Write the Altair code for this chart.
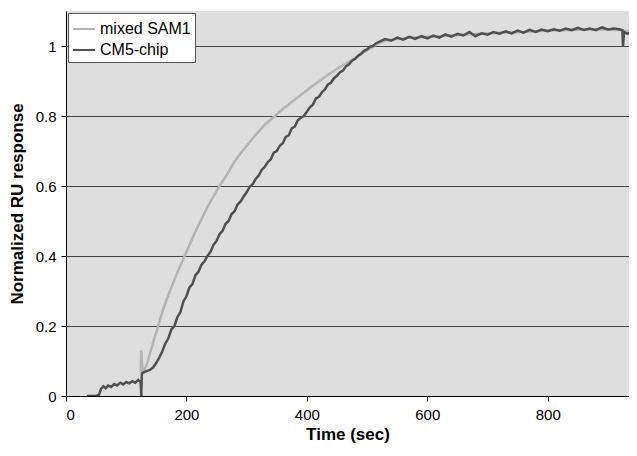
import altair as alt
import pandas as pd

# CM5-chip (dark, noisy)
cm5_t = [35, 50, 55, 58, 62, 66, 70, 75, 80, 85, 90, 95, 100, 105, 110, 115, 120, 124, 125, 126,
         130, 135, 140, 145, 150, 155, 160, 165, 170, 175, 180, 185, 190, 195, 200, 205, 210, 215,
         220, 225, 230, 235, 240, 245, 250, 255, 260, 265, 270, 275, 280, 285, 290, 295, 300, 305,
         310, 315, 320, 325, 330, 335, 340, 345, 350, 355, 360, 365, 370, 375, 380, 385, 390, 395,
         400, 405, 410, 415, 420, 425, 430, 435, 440, 445, 450, 455, 460, 465, 470, 475, 480, 485,
         490, 495, 500, 505, 510, 515, 520, 525, 530, 540, 550, 560, 570, 580, 590, 600, 610, 620,
         630, 640, 650, 660, 670, 680, 690, 700, 710, 720, 730, 740, 750, 760, 770, 780, 790, 800,
         810, 820, 830, 840, 850, 860, 870, 880, 890, 900, 910, 918, 924, 925, 927, 932, 940]
cm5_y = [0.0, 0.0, 0.004, 0.02, 0.028, 0.022, 0.03, 0.026, 0.034, 0.03, 0.038, 0.033, 0.04, 0.036,
         0.042, 0.038, 0.046, 0.04, 0.0, 0.065, 0.068, 0.072, 0.075, 0.082, 0.095, 0.11, 0.128, 0.15,
         0.165, 0.19, 0.2, 0.225, 0.24, 0.27, 0.285, 0.31, 0.32, 0.345, 0.355, 0.375, 0.385, 0.4, 0.412,
         0.432, 0.443, 0.462, 0.472, 0.492, 0.5, 0.52, 0.528, 0.547, 0.556, 0.57, 0.582, 0.598, 0.605,
         0.62, 0.63, 0.646, 0.655, 0.668, 0.676, 0.695, 0.7, 0.715, 0.722, 0.74, 0.745, 0.765, 0.77,
         0.788, 0.795, 0.8, 0.812, 0.825, 0.832, 0.85, 0.855, 0.868, 0.876, 0.89, 0.895, 0.908, 0.915,
         0.925, 0.93, 0.942, 0.948, 0.958, 0.963, 0.972, 0.978, 0.986, 0.99, 0.998, 1.0, 1.008, 1.012,
         1.016, 1.02, 1.015, 1.024, 1.018, 1.026, 1.02, 1.028, 1.022, 1.03, 1.024, 1.033, 1.027, 1.035,
         1.03, 1.04, 1.028, 1.036, 1.032, 1.04, 1.035, 1.042, 1.036, 1.044, 1.038, 1.046, 1.04, 1.047,
         1.042, 1.048, 1.044, 1.05, 1.045, 1.052, 1.046, 1.05, 1.045, 1.053, 1.047, 1.05, 1.048, 1.045,
         1.0, 1.04, 1.035, 1.04]

# mixed SAM1 (light, smooth)
sam_t = [124, 125, 127, 130, 135, 140, 146, 153, 160, 167, 175, 183, 190, 197, 206, 215, 225, 235,
         245, 255, 268, 280, 292, 305, 318, 330, 347, 360, 375, 390, 405, 421, 435, 450, 465, 480,
         495, 510, 520, 530, 550, 570, 600, 640, 680, 720, 760, 800, 840, 880, 920, 940]
sam_y = [0.07, 0.13, 0.07, 0.075, 0.095, 0.125, 0.16, 0.2, 0.24, 0.275, 0.31, 0.345, 0.372, 0.4,
         0.435, 0.47, 0.505, 0.54, 0.57, 0.6, 0.635, 0.67, 0.698, 0.725, 0.752, 0.775, 0.8, 0.82,
         0.84, 0.86, 0.88, 0.9, 0.917, 0.935, 0.95, 0.965, 0.982, 0.998, 1.008, 1.016, 1.02, 1.024,
         1.026, 1.03, 1.034, 1.038, 1.04, 1.044, 1.046, 1.048, 1.046, 1.04]

x_ticks = [0, 200, 400, 600, 800]
y_ticks = [0, 0.2, 0.4, 0.6, 0.8, 1]
series_names = ["mixed SAM1", "CM5-chip"]
series_colors = ["#b4b4b4", "#505050"]

df = pd.concat([
    pd.DataFrame({"t": sam_t, "y": sam_y, "s": series_names[0]}),
    pd.DataFrame({"t": cm5_t, "y": cm5_y, "s": series_names[1]}),
])

lines = alt.Chart(df).mark_line(strokeWidth=2.5, clip=True).encode(
    x=alt.X("t:Q", title="Time (sec)", scale=alt.Scale(domain=[0, 935], nice=False),
            axis=alt.Axis(values=x_ticks, grid=False)),
    y=alt.Y("y:Q", title="Normalized RU response", scale=alt.Scale(domain=[0, 1.1], nice=False),
            axis=alt.Axis(values=y_ticks, format="~g", gridColor="#444444", gridOpacity=1,
                          gridWidth=1)),
    color=alt.Color("s:N", scale=alt.Scale(domain=series_names, range=series_colors),
                    sort=series_names,
                    legend=alt.Legend(title=None, orient="none", legendX=2, legendY=2,
                                      fillColor="white", strokeColor="#555555", padding=4,
                                      symbolType="stroke", symbolSize=480, symbolStrokeWidth=2,
                                      labelFontSize=16, labelFont="Liberation Sans",
                                      labelColor="black", rowPadding=1, labelOffset=4)),
    order=alt.Order("s:N", sort="descending"),
)

chart = lines.properties(
    width=563, height=385,
    autosize=alt.AutoSizeParams(type="none"),
    padding={"left": 58, "top": 3, "right": 0, "bottom": 49},
).configure_view(
    fill="#dedede", stroke=None
).configure_axis(
    labelFont="Liberation Sans", labelFontSize=15, labelColor="black",
    titleFont="Liberation Sans", titleFontSize=17, titleFontWeight="bold", titleColor="black",
    domainColor="black", tickColor="black", tickSize=5,
).configure_axisX(titlePadding=4, labelPadding=6).configure_axisY(titlePadding=9, labelPadding=5)

chart.save("out.html", embed_options={"renderer": "svg", "actions": False})
